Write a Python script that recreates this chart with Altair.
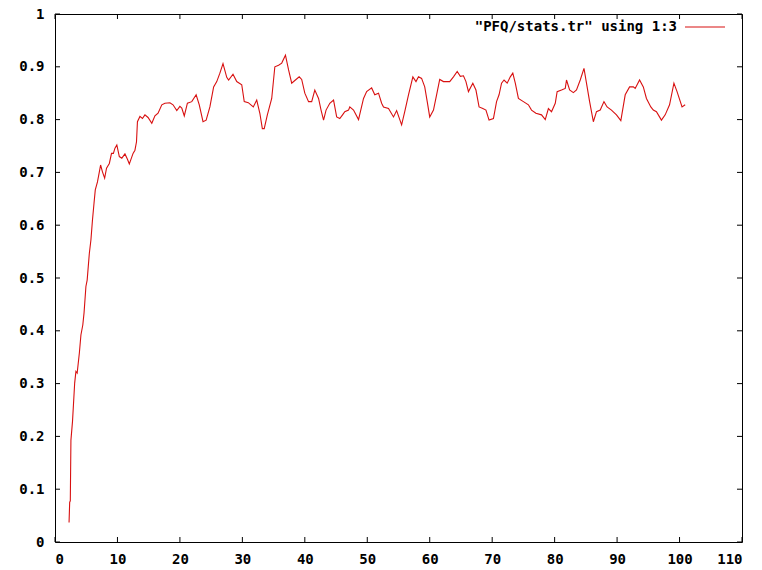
import altair as alt
import pandas as pd

# Series "PFQ/stats.tr" using 1:3
xs = [2.25, 2.35, 2.45, 2.55, 2.8, 2.95, 3.15, 3.35, 3.55, 3.9, 4.15, 4.45, 4.65, 4.95, 5.15,
      5.5, 5.75, 6.0, 6.25, 6.45, 6.8, 7.1, 7.3, 7.6, 7.95, 8.25, 8.7, 9.05, 9.35, 9.6, 9.9,
      10.3, 10.7, 11.2, 11.6, 11.9, 12.5, 12.8, 13.05, 13.2, 13.6, 14.0, 14.4, 14.9, 15.5, 16.0,
      16.5, 17.1, 17.6, 18.4, 18.9, 19.5, 20.0, 20.3, 20.7, 21.2, 21.9, 22.6, 23.1, 23.7, 24.2,
      24.8, 25.4, 25.9, 26.4, 26.9, 27.5, 27.8, 28.5, 29.1, 29.9, 30.3, 30.95, 31.75, 32.3, 32.8,
      33.2, 33.5, 34.0, 34.7, 35.2, 35.8, 36.3, 36.9, 37.4, 37.9, 38.4, 39.1, 39.5, 40.0, 40.6,
      41.1, 41.6, 42.2, 42.6, 43.0, 43.4, 44.0, 44.6, 45.1, 45.6, 46.1, 46.4, 47.0, 47.2, 47.8,
      48.6, 49.4, 49.9, 50.7, 51.2, 51.8, 52.3, 52.6, 53.4, 54.2, 54.7, 55.5, 56.0, 56.6, 57.3,
      57.8, 58.2, 58.7, 59.2, 59.6, 60.0, 60.6, 61.1, 61.6, 62.2, 63.2, 63.8, 64.4, 64.9, 65.4,
      65.8, 66.2, 66.9, 67.4, 67.9, 68.5, 69.0, 69.5, 70.2, 70.7, 71.1, 71.5, 71.9, 72.4, 72.9,
      73.3, 73.7, 74.2, 75.0, 75.8, 76.3, 77.0, 77.9, 78.5, 79.0, 79.5, 80.1, 80.4, 81.1, 81.7,
      81.9, 82.4, 83.0, 83.5, 84.1, 84.7, 85.1, 85.6, 86.2, 86.7, 87.3, 87.9, 88.4, 89.1, 89.9,
      90.6, 91.3, 92.0, 92.6, 92.9, 93.6, 94.2, 94.7, 95.4, 95.8, 96.3, 97.1, 97.7, 98.4, 99.1,
      99.6, 100.4, 100.9]
ys = [0.037, 0.075, 0.078, 0.193, 0.228, 0.259, 0.301, 0.323, 0.32, 0.358, 0.392, 0.411, 0.434,
      0.484, 0.496, 0.547, 0.572, 0.61, 0.642, 0.667, 0.682, 0.701, 0.714, 0.701, 0.689, 0.708,
      0.717, 0.736, 0.736, 0.746, 0.752, 0.73, 0.727, 0.735, 0.725, 0.716, 0.736, 0.742, 0.758,
      0.796, 0.806, 0.802, 0.809, 0.804, 0.793, 0.807, 0.812, 0.828, 0.831, 0.832, 0.828, 0.817,
      0.825, 0.822, 0.807, 0.831, 0.834, 0.847, 0.828, 0.796, 0.799, 0.824, 0.862, 0.872, 0.888,
      0.906, 0.88, 0.875, 0.886, 0.872, 0.866, 0.834, 0.832, 0.824, 0.837, 0.812, 0.783, 0.783,
      0.809, 0.84, 0.9, 0.903, 0.907, 0.922, 0.894, 0.869, 0.874, 0.881, 0.876, 0.85, 0.834,
      0.834, 0.856, 0.84, 0.818, 0.799, 0.818, 0.831, 0.837, 0.805, 0.802, 0.81, 0.815, 0.818,
      0.824, 0.818, 0.8, 0.84, 0.853, 0.86, 0.847, 0.85, 0.831, 0.824, 0.821, 0.805, 0.817, 0.79,
      0.815, 0.847, 0.881, 0.872, 0.881, 0.878, 0.862, 0.834, 0.805, 0.818, 0.847, 0.876, 0.872,
      0.872, 0.881, 0.891, 0.882, 0.883, 0.872, 0.853, 0.869, 0.856, 0.824, 0.821, 0.818, 0.799,
      0.802, 0.834, 0.847, 0.869, 0.875, 0.869, 0.881, 0.888, 0.869, 0.84, 0.834, 0.828, 0.818,
      0.812, 0.809, 0.8, 0.821, 0.815, 0.831, 0.853, 0.856, 0.859, 0.875, 0.856, 0.851, 0.856,
      0.875, 0.897, 0.869, 0.834, 0.796, 0.815, 0.818, 0.834, 0.824, 0.818, 0.809, 0.798, 0.847,
      0.862, 0.862, 0.859, 0.875, 0.862, 0.84, 0.824, 0.818, 0.815, 0.799, 0.809, 0.828, 0.869,
      0.853, 0.824, 0.828]

x_ticks = [0, 10, 20, 30, 40, 50, 60, 70, 80, 90, 100, 110]
y_ticks = [0, 0.1, 0.2, 0.3, 0.4, 0.5, 0.6, 0.7, 0.8, 0.9, 1]
legend_label = ['"PFQ/stats.tr" using 1:3']

W, H = 687, 528
FONT = "DejaVu Sans Mono"
FS = 14
RED = "#d81010"

df = pd.DataFrame({"x": xs, "y": ys})
xt = pd.DataFrame({"x": x_ticks})
yt = pd.DataFrame({"y": y_ticks})
lg = pd.DataFrame({"label": legend_label})

xscale = alt.Scale(domain=[0, 110], nice=False, zero=False)
yscale = alt.Scale(domain=[0, 1], nice=False, zero=False)

line = alt.Chart(df).mark_line(color=RED, strokeWidth=1.1).encode(
    x=alt.X("x:Q", scale=xscale, title=None,
            axis=alt.Axis(values=x_ticks, ticks=False, domain=False, grid=False,
                          labelFont=FONT, labelFontWeight="bold", labelFontSize=FS,
                          labelColor="#000", labelPadding=10)),
    y=alt.Y("y:Q", scale=yscale, title=None,
            axis=alt.Axis(values=y_ticks, format="~g", ticks=False, domain=False, grid=False,
                          labelFont=FONT, labelFontWeight="bold", labelFontSize=FS,
                          labelColor="#000", labelPadding=11)),
)

tb = alt.Chart(xt).mark_rule(color="#000", strokeWidth=1).encode(
    x=alt.X("x:Q", scale=xscale), y=alt.value(H), y2=alt.value(H - 5))
tt = alt.Chart(xt).mark_rule(color="#000", strokeWidth=1).encode(
    x=alt.X("x:Q", scale=xscale), y=alt.value(0), y2=alt.value(5))
tl = alt.Chart(yt).mark_rule(color="#000", strokeWidth=1).encode(
    y=alt.Y("y:Q", scale=yscale), x=alt.value(0), x2=alt.value(5))
tr = alt.Chart(yt).mark_rule(color="#000", strokeWidth=1).encode(
    y=alt.Y("y:Q", scale=yscale), x=alt.value(W), x2=alt.value(W - 5))

leg_text = alt.Chart(lg).mark_text(
    font=FONT, fontWeight="bold", fontSize=FS, align="right", baseline="middle", color="#000"
).encode(text="label:N", x=alt.value(622), y=alt.value(13))
leg_line = alt.Chart(lg).mark_rule(color=RED, strokeWidth=1.1).encode(
    x=alt.value(630), x2=alt.value(670), y=alt.value(13))

chart = alt.layer(line, tb, tt, tl, tr, leg_text, leg_line).properties(
    width=W, height=H,
    autosize=alt.AutoSizeParams(type="none"),
    padding={"left": 55, "top": 14, "right": 20, "bottom": 28},
    background="white",
).configure_view(stroke="#000", strokeWidth=1)

chart.save("out.html", embed_options={"renderer": "svg", "actions": False})
